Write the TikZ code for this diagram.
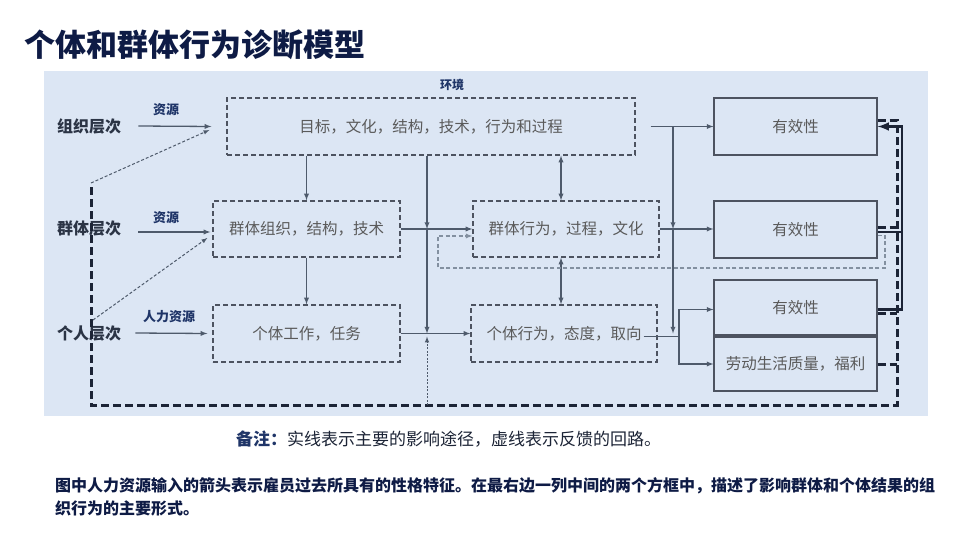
\documentclass[tikz,border=0pt]{standalone}
\usepackage{fontspec}
\setmainfont{Noto Sans CJK SC}
\definecolor{panelbg}{HTML}{DCE6F4}
\definecolor{titleclr}{HTML}{0E1B45}
\definecolor{navy}{HTML}{1F3568}
\definecolor{lvclr}{HTML}{2B3445}
\definecolor{boxln}{HTML}{4D5360}
\definecolor{txtgray}{HTML}{5A5A5A}
\definecolor{conn}{HTML}{4E5A6B}
\definecolor{fbclr}{HTML}{1C2436}
\definecolor{loopclr}{HTML}{8390A0}
\begin{document}
\begin{tikzpicture}[x=1pt, y=-1pt,
    every node/.style={inner sep=0pt, align=center},
    dbox/.style={rectangle, draw=boxln, line width=1.3pt, dash pattern=on 5pt off 3pt,
                 font=\fontsize{15.5}{18}\selectfont, text=txtgray},
    sbox/.style={rectangle, draw=boxln, line width=1.1pt,
                 font=\fontsize{15.5}{18}\selectfont, text=txtgray},
    lvl/.style={anchor=west, font=\fontsize{16}{18}\selectfont\bfseries, text=lvclr},
    res/.style={font=\fontsize{13}{15}\selectfont\bfseries, text=navy},
    arr/.style={-latex, line width=1.3pt, conn},
    dbl/.style={latex-latex, line width=1.3pt, conn},
    fb/.style={line width=3pt, fbclr, dash pattern=on 8pt off 4pt},
    fbsol/.style={-latex, line width=2.8pt, fbclr},
    thinfb/.style={-latex, line width=1pt, conn, dash pattern=on 3pt off 2pt},
    loopln/.style={-latex, line width=1.2pt, loopclr, dash pattern=on 4pt off 2.5pt}
]
\useasboundingbox (0,0) rectangle (960,540);
\fill[panelbg] (44,71) rectangle (928,416);

% title
\node[anchor=west, font=\fontsize{31}{34}\selectfont\bfseries, text=titleclr] (title) at (24,45) {个体和群体行为诊断模型};
\node[font=\fontsize{12}{14}\selectfont\bfseries, text=navy] (env) at (452,85) {环境};

% levels
\node[lvl] (orgLv) at (57,126) {组织层次};
\node[lvl] (grpLv) at (57,229) {群体层次};
\node[lvl] (indLv) at (57,333) {个人层次};
\node[res] (res1) at (166,110) {资源};
\node[res] (res2) at (166,218) {资源};
\node[res] (res3) at (169,317) {人力资源};

% boxes
\node[dbox, minimum width=408pt, minimum height=57pt] (goalBox) at (431,126.5) {目标，文化，结构，技术，行为和过程};
\node[dbox, minimum width=187pt, minimum height=56pt] (grpOrg)  at (306.5,229) {群体组织，结构，技术};
\node[dbox, minimum width=187pt, minimum height=57pt] (indWork) at (306.5,333.5) {个体工作，任务};
\node[dbox, minimum width=186pt, minimum height=56pt] (grpBeh)  at (566,229) {群体行为，过程，文化};
\node[dbox, minimum width=186pt, minimum height=57pt] (indBeh)  at (564,333.5) {个体行为，态度，取向};
\node[sbox, minimum width=163pt, minimum height=57pt] (eff1) at (795.5,126.5) {有效性};
\node[sbox, minimum width=163pt, minimum height=57pt] (eff2) at (795.5,229.5) {有效性};
\node[sbox, minimum width=163pt, minimum height=55pt] (eff3) at (795.5,307.5) {有效性};
\node[sbox, minimum width=163pt, minimum height=54pt] (qol)  at (795.5,364) {劳动生活质量，福利};

% helper coordinates
\coordinate (colA) at (427,0);
\coordinate (colB) at (561,0);
\coordinate (colC) at (673,0);
\coordinate (colD) at (679,0);
\coordinate (fbR)  at (897,0);
\coordinate (fbS)  at (902,0);
\coordinate (fbBR) at (897,405);
\coordinate (fbTL) at (91,183);
\coordinate (fbM)  at (93,320);
\coordinate (lpR)  at (885,268);
\coordinate (lpL)  at (438,268);

% inputs
\draw[arr] ([xshift=17pt]orgLv.east) -- ([xshift=-15pt]goalBox.west);
\draw[arr] ([xshift=17pt,yshift=-3pt]grpLv.east) -- ([xshift=-2pt,yshift=-3pt]grpOrg.west);
\draw[arr] ([xshift=14pt]indLv.east) -- ([xshift=-5pt]indWork.west);

% main paths
\draw[arr] (goalBox.south -| grpOrg) -- (grpOrg.north);
\draw[arr] (grpOrg.south) -- (indWork.north);
\draw[arr] (colA |- goalBox.south) -- (colA |- grpOrg.east);
\draw[arr] (colA |- grpOrg.east) -- (colA |- indWork.east);
\draw[arr] (grpOrg.east) -- (grpBeh.west);
\draw[arr] (indWork.east) -- (indBeh.west);
\draw[dbl] (colB |- goalBox.south) -- (colB |- grpBeh.north);
\draw[dbl] (colB |- grpBeh.south) -- (colB |- indBeh.north);
\draw[arr] ([xshift=15pt]goalBox.east) -- (eff1.west);
\draw[arr] (colC |- eff1.west) -- (colC |- grpBeh.east);
\draw[arr] (colC |- grpBeh.east) -- (colC |- indBeh.east);
\draw[arr] (grpBeh.east) -- (grpBeh.east -| eff2.west);
\draw[arr] ([xshift=-14pt,yshift=-3pt]indBeh.east) -- ([yshift=-3pt]colD |- indBeh.east) |- ([yshift=-2pt]eff3.west);
\draw[arr] ([yshift=-3pt]colD |- indBeh.east) |- (qol.west);

% feedback
\draw[loopln] ([yshift=-6pt]eff2.east) -| (lpR) -- (lpL) |- ([yshift=-7pt]grpBeh.west);
\draw[fb] ([yshift=6pt]eff1.east) -| (fbBR) -| (fbTL);
\draw[fb] ([yshift=2pt]eff2.east) -- ([yshift=2pt]eff2.east -| fbR);
\draw[fb] ([yshift=-6pt]eff3.east) -- ([yshift=-6pt]eff3.east -| fbR);
\draw[fb] (qol.east) -- (qol.east -| fbR);
\draw[fbsol] ([yshift=-2pt]eff3.east) -- ([yshift=-2pt]eff3.east -| fbS) |- (eff1.east);
\draw[line width=2pt, fbclr] ([yshift=-2pt]eff2.east) -- ([yshift=-2pt]eff2.east -| fbS);
\draw[thinfb] (fbTL) -- ([xshift=-17pt,yshift=-3.5pt]goalBox.west);
\draw[thinfb] (fbM) -- ([xshift=-5pt,yshift=-9pt]grpOrg.west);
\draw[thinfb, dash pattern=on 2pt off 1.5pt] (colA |- fbBR) -- ([yshift=-3pt]colA |- indWork.east);

% notes
\node[anchor=west, font=\fontsize{17}{20}\selectfont, text=fbclr] (note) at (236,439)
  {\textcolor{navy}{\bfseries 备注：}实线表示主要的影响途径，虚线表示反馈的回路。};
\node[anchor=west, font=\fontsize{16}{18}\selectfont\bfseries, text=titleclr] (desc1) at (55,486)
  {图中人力资源输入的箭头表示雇员过去所具有的性格特征。在最右边一列中间的两个方框中，描述了影响群体和个体结果的组};
\node[anchor=west, font=\fontsize{16}{18}\selectfont\bfseries, text=titleclr] (desc2) at (55,508)
  {织行为的主要形式。};
\end{tikzpicture}
\end{document}
